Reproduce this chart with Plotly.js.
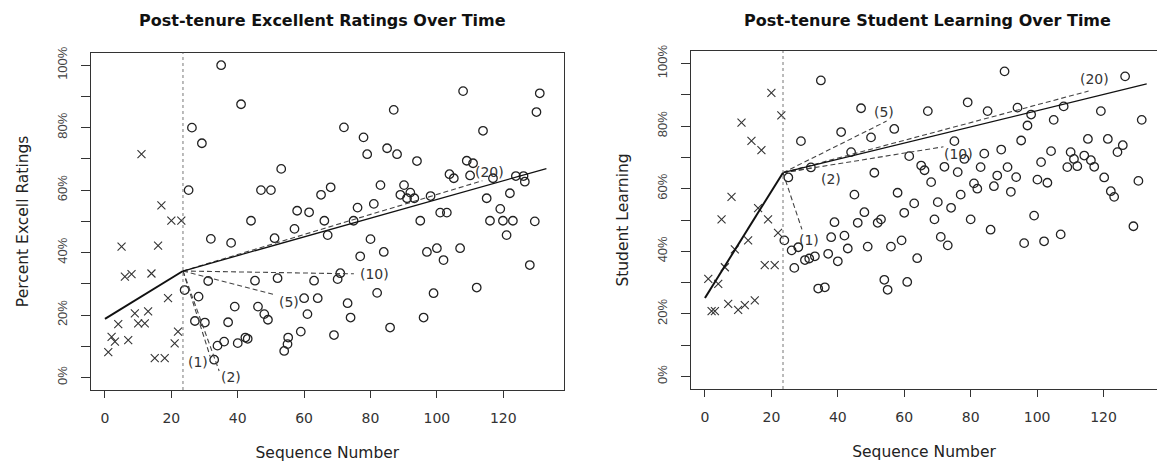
<!DOCTYPE html>
<html><head><meta charset="utf-8">
<script src="https://cdn.plot.ly/plotly-3.0.1.min.js"></script>
<style>html,body{margin:0;padding:0;background:#fff}#chart{width:1157px;height:464px}</style>
</head><body><div id="chart"></div>
<script>
// ---------------- data ----------------
const tenureX = 23.5;
const xTicks = [0, 20, 40, 60, 80, 100, 120];
const yTickVals = [0, 10, 20, 30, 40, 50, 60, 70, 80, 90, 100];
const yTickText = ["0%", "", "20%", "", "40%", "", "60%", "", "80%", "", "100%"];

// Left panel: Post-tenure Excellent Ratings
const leftPreX = [1,2,3,4,5,6,7,8,9,10,11,12,13,14,15,16,17,18,19,20,21,22,23];
const leftPreY = [8.1,13,11.5,17.1,41.9,32.3,12,33.1,20.5,17.3,71.5,17.3,21.2,33.3,6.2,42.2,55.1,6.2,25.4,50.2,10.9,14.7,50.2];
const leftPostX = [35.0,41.0,26.2,29.2,53.1,25.2,47.0,50.0,57.9,61.5,44.0,
  107.9,87.0,72.0,77.9,113.9,79.0,85.0,88.0,94.0,109.0,110.9,103.8,105.1,110.0,116.9,123.8,126.1,126.5,68.0,65.1,83.0,90.1,89.0,92.0,91.0,93.2,98.1,115.0,122.0,76.1,81.0,119.1,66.1,74.9,95.0,101.0,103.0,116.0,119.9,122.9,
  67.1,80.0,76.9,84.0,97.0,100.0,102.0,107.0,121.0,70.9,63.0,70.1,60.0,64.1,73.1,82.0,99.0,112.0,61.0,74.0,96.0,85.9,59.0,69.0,
  57.1,51.1,31.9,38.0,31.1,45.2,52.0,24.0,28.2,39.1,46.1,48.0,49.1,37.1,27.1,30.1,55.2,55.0,54.0,42.3,43.0,40.0,35.9,33.9,32.9,
  131,130,129.5,128];
const leftPostY = [100,87.5,80,75,66.8,60,60,60,53.4,52.9,50.2,
  91.7,85.7,80.1,76.9,79,71.5,73.4,71.5,69.3,69.4,68.6,65.1,63.8,64.7,63.8,64.5,64.5,62.7,60.9,58.5,61.6,61.6,58.5,59.2,57.4,57.4,58.1,57.4,59,54.4,55.6,54,50.2,50.2,50.2,52.8,52.8,50.2,50.2,50.2,
  45.6,44.3,38.8,40.2,40.2,41.4,37.6,41.4,45.6,33.4,31,31.5,25.4,25.4,23.8,27.1,27,28.8,20.3,19.2,19.2,16,14.7,13.6,
  47.6,44.6,44.4,43.1,30.9,31,31.8,28,25.9,22.7,22.7,20.3,18.5,17.7,18.1,17.6,12.8,10.7,8.5,12.8,12.4,11,11.5,10.2,5.7,
  91,85,50,36];
const leftFitX = [0, 23.5, 133];
const leftFitY = [18.8, 34.1, 66.9];
const predLabels = ["(1)", "(2)", "(5)", "(10)", "(20)"];
const leftPredEndX = [31.7, 34.4, 51.5, 75.0, 113.7];
const leftPredEndY = [6.7, 2.1, 26.4, 33.2, 63.0];
const leftLabelX = [27.9, 38.0, 55.5, 81.1, 115.8];
const leftLabelY = [5.1, 0.1, 24.1, 33.1, 65.9];

// Right panel: Post-tenure Student Learning
const rightPreX = [1,2,3,4,5,6,7,8,9,10,11,12,13,14,15,16,17,18,19,20,21,22,23];
const rightPreY = [31.2,20.9,20.9,29.6,50.2,34.9,23.2,57.4,40.6,21.3,81.1,22.8,43.5,75.3,24.3,53.8,72.3,35.6,50.2,90.6,35.6,45.9,83.4];
const rightPostX = [34.9,28.9,47,41,50,57,61.5,44,31.9,25.1,51,45,58,60,48,53,52,39,46,
  90.2,126.5,79.1,67.1,85.1,94.1,98.2,108,119.2,105,97.1,95.2,75.1,115.3,121.3,125.8,124.2,78.1,84.1,89.2,104.2,110.1,111.1,114.2,116.2,117.2,109.1,112.1,101.2,65.1,66.1,72.1,76.1,83,91.1,88,93.7,68.1,81,82,87,100.1,103.1,120.2,77,92.1,122.2,123.2,63,70.1,74.1,69.1,80,99.1,
  86,59.2,71,73.1,63.9,60.9,96.1,102.1,107.1,
  23.9,26.1,28.1,30.1,31.4,33.1,26.9,37.1,40,38,42,43,49,56,54,55,34.1,36.1,
  131.5,130.5,129];
const rightPostY = [94.6,75.2,85.7,78.1,76.4,79.1,70.4,71.7,66.8,63.6,65.1,58.1,58.7,52.3,52.5,50.2,49.1,49.3,49.1,
  97.5,95.9,87.6,84.8,84.8,85.9,83.7,86.3,84.8,82,80.2,75.4,75.2,75.9,75.9,73.9,71.7,69.5,71.2,72.5,72,71.7,69.5,70.6,69.1,67,66.9,67.2,68.5,67.4,65.9,67,65.3,66.9,66.9,64.2,63.7,62.1,61.7,60,60.8,62.9,61.9,63.6,58.1,59,59.2,57.4,55.3,55.7,53.9,50.2,50.2,51.4,
  46.9,43.5,44.6,41.9,37.8,30.2,42.6,43.2,45.4,
  43.5,40.3,41.3,37.2,37.7,38.4,34.7,39.2,36.8,44.5,45,40.9,41.5,41.5,30.9,27.7,28.1,28.5,
  82,62.5,48];
const rightFitX = [0, 23.5, 133];
const rightFitY = [25.1, 65.1, 93.5];
const rightPredEndX = [29.2, 32.6, 54.7, 71.8, 115.5];
const rightPredEndY = [47.0, 66.7, 81.6, 73.4, 91.2];
const rightLabelX = [31.2, 38.0, 54.0, 76.3, 117.2];
const rightLabelY = [43.5, 63.2, 84.4, 71.2, 95.1];

// ---------------- helpers ----------------
const W = 1157, H = 464;
const INK = "#333";
function panelTraces(preX, preY, postX, postY, fitX, fitY, endX, endY, xa, ya) {
  const bpY = fitY[1];
  const px = [], py = [];
  for (let i = 0; i < endX.length; i++) { px.push(fitX[1], endX[i], null); py.push(bpY, endY[i], null); }
  return [
    {x: preX, y: preY, xaxis: xa, yaxis: ya, type: "scatter", mode: "markers",
     marker: {symbol: "x-thin-open", size: 8, color: INK, line: {width: 1.1, color: INK}}, hoverinfo: "skip"},
    {x: postX, y: postY, xaxis: xa, yaxis: ya, type: "scatter", mode: "markers",
     marker: {symbol: "circle-open", size: 8.5, color: "#222", line: {width: 1.3, color: "#222"}}, hoverinfo: "skip"},
    {x: px, y: py, xaxis: xa, yaxis: ya, type: "scatter", mode: "lines",
     line: {color: "#444", width: 1.1, dash: "5px,3px"}, hoverinfo: "skip"},
    {x: fitX.slice(0, 2), y: fitY.slice(0, 2), xaxis: xa, yaxis: ya, type: "scatter", mode: "lines",
     line: {color: "#111", width: 2}, hoverinfo: "skip"},
    {x: fitX.slice(1), y: fitY.slice(1), xaxis: xa, yaxis: ya, type: "scatter", mode: "lines",
     line: {color: "#111", width: 1.3}, hoverinfo: "skip"}
  ];
}

const traces = [].concat(
  panelTraces(leftPreX, leftPreY, leftPostX, leftPostY, leftFitX, leftFitY, leftPredEndX, leftPredEndY, "x", "y"),
  panelTraces(rightPreX, rightPreY, rightPostX, rightPostY, rightFitX, rightFitY, rightPredEndX, rightPredEndY, "x2", "y2")
);

const tickFont = {family: "DejaVu Sans", size: 14, color: INK};
const yTickFont = {family: "Liberation Sans", size: 13, color: "#444"};
const titleFont = {family: "DejaVu Sans", size: 15.5, color: "#222"};
function xAxis(domain, range) {
  return {domain, range, showline: true, mirror: true, linecolor: INK, linewidth: 1,
    ticks: "outside", ticklen: 7, tickwidth: 1, tickcolor: INK, tickvals: xTicks,
    showgrid: false, zeroline: false, tickfont: tickFont, ticklabelstandoff: 8,
    title: {text: "Sequence Number", font: titleFont, standoff: 22}};
}
function yAxis(domain, title, anchor) {
  return {domain, range: [-4, 104], anchor, showline: true, mirror: true, linecolor: INK, linewidth: 1,
    ticks: "outside", ticklen: 9, tickwidth: 1, tickcolor: INK, tickvals: yTickVals, ticktext: yTickText,
    tickangle: -90, showgrid: false, zeroline: false, tickfont: yTickFont, ticklabelstandoff: 9,
    title: {text: title, font: titleFont, standoff: 22}};
}

const annotations = [];
function addLabels(lx, ly, xa, ya) {
  for (let i = 0; i < predLabels.length; i++) {
    annotations.push({x: lx[i], y: ly[i], xref: xa, yref: ya, text: predLabels[i], showarrow: false,
      font: {family: "DejaVu Sans", size: 14, color: INK}, xanchor: "center", yanchor: "middle"});
  }
}
addLabels(leftLabelX, leftLabelY, "x", "y");
addLabels(rightLabelX, rightLabelY, "x2", "y2");
annotations.push({text: "<b>Post-tenure Excellent Ratings Over Time</b>", xref: "paper", yref: "paper",
  x: 322 / W, y: 1 - 20 / H, xanchor: "center", yanchor: "middle", showarrow: false,
  font: {family: "DejaVu Sans", size: 16, color: "#111"}});
annotations.push({text: "<b>Post-tenure Student Learning Over Time</b>", xref: "paper", yref: "paper",
  x: 927 / W, y: 1 - 20 / H, xanchor: "center", yanchor: "middle", showarrow: false,
  font: {family: "DejaVu Sans", size: 16, color: "#111"}});

const shapes = [
  {type: "line", xref: "x", yref: "y domain", x0: tenureX, x1: tenureX, y0: 0, y1: 1,
   line: {color: "#777", width: 1, dash: "dot"}},
  {type: "line", xref: "x2", yref: "y2 domain", x0: tenureX, x1: tenureX, y0: 0, y1: 1,
   line: {color: "#777", width: 1, dash: "dot"}}
];

const layout = {
  width: W, height: H, margin: {l: 0, r: 0, t: 0, b: 0}, showlegend: false,
  paper_bgcolor: "#fff", plot_bgcolor: "#fff",
  xaxis: Object.assign(xAxis([90.7 / W, 564 / W], [-4.3, 138.3]), {anchor: "y"}),
  yaxis: yAxis([1 - 390 / H, 1 - 52.7 / H], "Percent Excell Ratings", "x"),
  xaxis2: Object.assign(xAxis([691 / W, 1], [-4.2, 136.1]), {anchor: "y2"}),
  yaxis2: yAxis([1 - 389 / H, 1 - 51 / H], "Student Learning", "x2"),
  annotations, shapes
};
Plotly.newPlot("chart", traces, layout, {staticPlot: true, displayModeBar: false});
</script>
</body></html>
